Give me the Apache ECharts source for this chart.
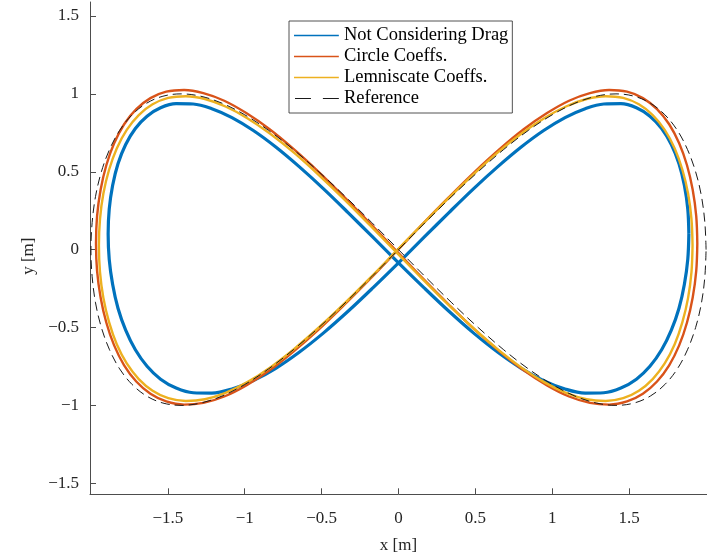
<!DOCTYPE html>
<html>
<head>
<meta charset="utf-8">
<script src="https://cdn.jsdelivr.net/npm/echarts@6/dist/echarts.min.js"></script>
<style>
  html, body { margin: 0; padding: 0; background: #fff; }
  #chart { width: 707px; height: 560px; }
</style>
</head>
<body>
<div id="chart"></div>
<script>
// Figure-eight trajectories (x, y in metres), one closed lap each, sampled densely along the path.
const xReference = [
  2, 1.992, 1.970, 1.932, 1.879, 1.813, 1.732, 1.638, 1.532, 1.414, 1.286, 1.147, 1.0, 0.845, 0.684, 0.518, 0.347, 0.174,
  0, -0.174, -0.347, -0.518, -0.684, -0.845, -1.0, -1.147, -1.286, -1.414, -1.532, -1.638, -1.732, -1.813, -1.879, -1.932, -1.970, -1.992,
  -2, -1.992, -1.970, -1.932, -1.879, -1.813, -1.732, -1.638, -1.532, -1.414, -1.286, -1.147, -1.0, -0.845, -0.684, -0.518, -0.347, -0.174,
  0, 0.174, 0.347, 0.518, 0.684, 0.845, 1.0, 1.147, 1.286, 1.414, 1.532, 1.638, 1.732, 1.813, 1.879, 1.932, 1.970, 1.992,
  2];
const yReference = [
  0, 0.174, 0.342, 0.5, 0.643, 0.766, 0.866, 0.940, 0.985, 1.0, 0.985, 0.940, 0.866, 0.766, 0.643, 0.5, 0.342, 0.174,
  0, -0.174, -0.342, -0.5, -0.643, -0.766, -0.866, -0.940, -0.985, -1.0, -0.985, -0.940, -0.866, -0.766, -0.643, -0.5, -0.342, -0.174,
  0, 0.174, 0.342, 0.5, 0.643, 0.766, 0.866, 0.940, 0.985, 1.0, 0.985, 0.940, 0.866, 0.766, 0.643, 0.5, 0.342, 0.174,
  0, -0.174, -0.342, -0.5, -0.643, -0.766, -0.866, -0.940, -0.985, -1.0, -0.985, -0.940, -0.866, -0.766, -0.643, -0.5, -0.342, -0.174,
  0];

const xNoDrag = [
  1.888, 1.881, 1.859, 1.824, 1.774, 1.711, 1.635, 1.547, 1.446, 1.335, 1.214, 1.083, 0.944, 0.798, 0.646, 0.489, 0.328, 0.165,
  0, -0.165, -0.328, -0.489, -0.646, -0.798, -0.944, -1.083, -1.214, -1.335, -1.446, -1.547, -1.635, -1.711, -1.774, -1.824, -1.859, -1.881,
  -1.888, -1.881, -1.859, -1.824, -1.774, -1.711, -1.635, -1.547, -1.446, -1.335, -1.214, -1.083, -0.944, -0.798, -0.646, -0.489, -0.328, -0.165,
  0, 0.165, 0.328, 0.489, 0.646, 0.798, 0.944, 1.083, 1.214, 1.335, 1.446, 1.547, 1.635, 1.711, 1.774, 1.824, 1.859, 1.881,
  1.888];
const yNoDrag = [
  0.101, 0.260, 0.412, 0.552, 0.675, 0.778, 0.857, 0.911, 0.937, 0.935, 0.905, 0.848, 0.765, 0.659, 0.533, 0.392, 0.238, 0.078,
  -0.085, -0.244, -0.396, -0.536, -0.659, -0.762, -0.841, -0.895, -0.921, -0.919, -0.889, -0.832, -0.749, -0.643, -0.517, -0.376, -0.222, -0.062,
  0.101, 0.260, 0.412, 0.552, 0.675, 0.778, 0.857, 0.911, 0.937, 0.935, 0.905, 0.848, 0.765, 0.659, 0.533, 0.392, 0.238, 0.078,
  -0.085, -0.244, -0.396, -0.536, -0.659, -0.762, -0.841, -0.895, -0.921, -0.919, -0.889, -0.832, -0.749, -0.643, -0.517, -0.376, -0.222, -0.062,
  0.101];

const xCircle = [
  1.943, 1.936, 1.913, 1.876, 1.825, 1.760, 1.681, 1.589, 1.486, 1.370, 1.245, 1.109, 0.966, 0.814, 0.657, 0.494, 0.328, 0.158,
  -0.012, -0.182, -0.352, -0.518, -0.681, -0.838, -0.990, -1.133, -1.269, -1.394, -1.510, -1.613, -1.705, -1.784, -1.849, -1.900, -1.937, -1.960,
  -1.967, -1.960, -1.937, -1.900, -1.849, -1.784, -1.705, -1.613, -1.510, -1.394, -1.269, -1.133, -0.990, -0.838, -0.681, -0.518, -0.352, -0.182,
  -0.012, 0.158, 0.328, 0.494, 0.657, 0.814, 0.966, 1.109, 1.245, 1.370, 1.486, 1.589, 1.681, 1.760, 1.825, 1.876, 1.913, 1.936,
  1.943];
const yCircle = [
  0.040, 0.215, 0.384, 0.542, 0.683, 0.805, 0.902, 0.973, 1.014, 1.025, 1.005, 0.956, 0.877, 0.773, 0.645, 0.498, 0.337, 0.166,
  -0.010, -0.185, -0.354, -0.512, -0.653, -0.775, -0.872, -0.943, -0.984, -0.995, -0.975, -0.926, -0.847, -0.743, -0.615, -0.468, -0.307, -0.136,
  0.040, 0.215, 0.384, 0.542, 0.683, 0.805, 0.902, 0.973, 1.014, 1.025, 1.005, 0.956, 0.877, 0.773, 0.645, 0.498, 0.337, 0.166,
  -0.010, -0.185, -0.354, -0.512, -0.653, -0.775, -0.872, -0.943, -0.984, -0.995, -0.975, -0.926, -0.847, -0.743, -0.615, -0.468, -0.307, -0.136,
  0.040];

const xLemniscate = [
  1.912, 1.905, 1.883, 1.846, 1.796, 1.731, 1.653, 1.563, 1.461, 1.347, 1.223, 1.089, 0.947, 0.798, 0.642, 0.482, 0.317, 0.150,
  -0.018, -0.186, -0.353, -0.518, -0.678, -0.834, -0.983, -1.125, -1.259, -1.383, -1.497, -1.599, -1.689, -1.767, -1.832, -1.882, -1.919, -1.941,
  -1.948, -1.941, -1.919, -1.882, -1.832, -1.767, -1.689, -1.599, -1.497, -1.383, -1.259, -1.125, -0.983, -0.834, -0.678, -0.518, -0.353, -0.186,
  -0.018, 0.150, 0.317, 0.482, 0.642, 0.798, 0.947, 1.089, 1.223, 1.347, 1.461, 1.563, 1.653, 1.731, 1.796, 1.846, 1.883, 1.905,
  1.912];
const yLemniscate = [
  0.026, 0.196, 0.360, 0.513, 0.650, 0.769, 0.864, 0.933, 0.974, 0.985, 0.967, 0.919, 0.844, 0.744, 0.621, 0.479, 0.323, 0.157,
  -0.013, -0.183, -0.347, -0.500, -0.637, -0.756, -0.851, -0.920, -0.961, -0.972, -0.954, -0.906, -0.831, -0.731, -0.608, -0.466, -0.310, -0.144,
  0.026, 0.196, 0.360, 0.513, 0.650, 0.769, 0.864, 0.933, 0.974, 0.985, 0.967, 0.919, 0.844, 0.744, 0.621, 0.479, 0.323, 0.157,
  -0.013, -0.183, -0.347, -0.500, -0.637, -0.756, -0.851, -0.920, -0.961, -0.972, -0.954, -0.906, -0.831, -0.731, -0.608, -0.466, -0.310, -0.144,
  0.026];

const xTicks = [-1.5, -1, -0.5, 0, 0.5, 1, 1.5];
const yTicks = [-1.5, -1, -0.5, 0, 0.5, 1, 1.5];

const seriesNames = ['Not Considering Drag', 'Circle Coeffs.', 'Lemniscate Coeffs.', 'Reference'];

function pairs(xs, ys) {
  return xs.map((x, i) => [x, ys[i]]);
}

const FONT = '"Liberation Serif", "DejaVu Serif", serif';
const AXIS_COLOR = '#4d4d4d';
const fmt = v => String(v).replace('-', '\u2212');

// Legend keys: a thin solid bar, or two dashes; the tiny corner squares pin the icon box height.
const PIN = 'M0,0h0.05v0.05h-0.05z M0,14h0.05v0.05h-0.05z ';
const ICON_SOLID = 'path://' + PIN + 'M0,6.3h45v1.4h-45z';
const ICON_DASHED = 'path://' + PIN + 'M1,6.4h16v1.2h-16z M29,6.4h16v1.2h-16z';

const chart = echarts.init(document.getElementById('chart'), null, { renderer: 'canvas' });

function lineSeries(name, xs, ys, color, width, dash, z) {
  return {
    name: name,
    type: 'line',
    data: pairs(xs, ys),
    smooth: 0.35,
    symbol: 'none',
    showSymbol: false,
    z: z,
    lineStyle: { color: color, width: width, type: dash || 'solid' },
    itemStyle: { color: color },
    emphasis: { disabled: true }
  };
}

chart.setOption({
  animation: false,
  backgroundColor: '#fff',
  grid: { left: 90, top: 2, width: 624.5, height: 492.3, containLabel: false },
  xAxis: {
    type: 'value',
    min: -2.006,
    max: 2.006,
    name: 'x [m]',
    nameLocation: 'middle',
    nameGap: 43,
    nameTextStyle: { fontFamily: FONT, fontSize: 17, color: '#262626' },
    axisLine: { show: true, onZero: false, lineStyle: { color: AXIS_COLOR, width: 1 } },
    axisTick: { show: true, inside: true, length: 6, customValues: xTicks, lineStyle: { color: AXIS_COLOR } },
    axisLabel: { customValues: xTicks, margin: 16, formatter: fmt, fontFamily: FONT, fontSize: 17, color: '#262626' },
    splitLine: { show: false }
  },
  yAxis: {
    type: 'value',
    min: -1.571,
    max: 1.590,
    name: 'y [m]',
    nameLocation: 'middle',
    nameGap: 50,
    nameTextStyle: { fontFamily: FONT, fontSize: 17, color: '#262626', padding: [0, 16, 0, 0] },
    axisLine: { show: true, onZero: false, lineStyle: { color: AXIS_COLOR, width: 1 } },
    axisTick: { show: true, inside: true, length: 6, customValues: yTicks, lineStyle: { color: AXIS_COLOR } },
    axisLabel: { customValues: yTicks, margin: 11, formatter: fmt, fontFamily: FONT, fontSize: 17, color: '#262626' },
    splitLine: { show: false }
  },
  legend: {
    orient: 'vertical',
    left: 289,
    top: 21,
    padding: [5, 4, 5, 5],
    itemWidth: 45,
    itemHeight: 14,
    itemGap: 2,
    backgroundColor: '#fff',
    borderColor: '#262626',
    borderWidth: 0.8,
    borderRadius: 0,
    selectedMode: false,
    itemStyle: { borderWidth: 0 },
    textStyle: { fontFamily: FONT, fontSize: 18.5, lineHeight: 18, color: '#000' },
    data: [
      { name: seriesNames[0], icon: ICON_SOLID },
      { name: seriesNames[1], icon: ICON_SOLID },
      { name: seriesNames[2], icon: ICON_SOLID },
      { name: seriesNames[3], icon: ICON_DASHED }
    ]
  },
  series: [
    lineSeries(seriesNames[0], xNoDrag, yNoDrag, '#0072BD', 3.2, null, 2),
    lineSeries(seriesNames[1], xCircle, yCircle, '#D95319', 2.4, null, 3),
    lineSeries(seriesNames[2], xLemniscate, yLemniscate, '#EDB120', 2.4, null, 4),
    lineSeries(seriesNames[3], xReference, yReference, '#1a1a1a', 1, [9, 5], 5)
  ]
});
</script>
</body>
</html>
